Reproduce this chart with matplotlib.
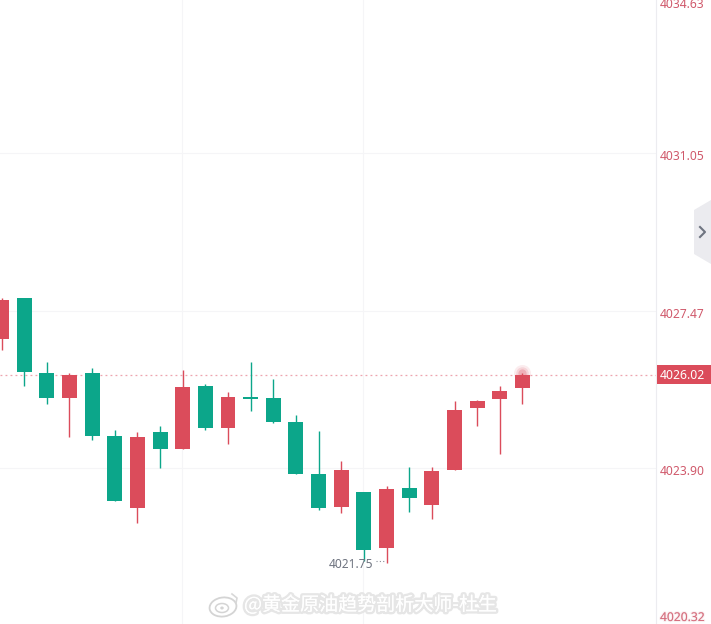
import matplotlib
matplotlib.use("Agg")
import matplotlib.pyplot as plt
import matplotlib.patheffects as pe
from matplotlib.patches import Polygon, Ellipse, Rectangle
from matplotlib.lines import Line2D

RED = "#DB4C5B"
GREEN = "#0CA68A"
GRID = "#F5F5F7"
TICK_RED = "#D0596B"

# Candles, oldest first
opens = [4026.83, 4027.76, 4026.06, 4025.49, 4026.06, 4024.63, 4022.99, 4024.72, 4024.33, 4025.76, 4024.81,
         4025.51, 4025.49, 4024.94, 4023.76, 4023.01, 4023.35, 4022.08, 4023.45, 4023.06, 4023.85, 4025.26,
         4025.47, 4025.72]
closes = [4027.71, 4026.08, 4025.49, 4026.02, 4024.63, 4023.15, 4024.60, 4024.33, 4025.74, 4024.81, 4025.51,
          4025.47, 4024.94, 4023.76, 4022.99, 4023.85, 4022.04, 4023.42, 4023.22, 4023.83, 4025.22, 4025.42,
          4025.65, 4026.02]
highs = [4027.76, 4027.76, 4026.31, 4026.06, 4026.17, 4024.76, 4024.72, 4024.85, 4026.12, 4025.81, 4025.63,
         4026.31, 4025.92, 4025.10, 4024.74, 4024.06, 4023.35, 4023.49, 4023.92, 4023.92, 4025.42, 4025.44,
         4025.76, 4026.06]
lows = [4026.58, 4025.76, 4025.35, 4024.60, 4024.54, 4023.15, 4022.65, 4023.90, 4024.33, 4024.76, 4024.45,
        4025.19, 4024.92, 4023.76, 4022.95, 4022.88, 4021.80, 4021.75, 4022.90, 4022.74, 4023.85, 4024.85,
        4024.22, 4025.35]
up_flags = [True, False, False, True, False, False, True, False, True, False, True,
            False, False, False, False, True, False, True, False, True, True, True, True, True]

axis_ticks = [4034.63, 4031.05, 4027.47, 4023.90, 4020.32]
axis_tick_labels = ["4034.63", "4031.05", "4027.47", "4023.90", "4020.32"]
last_price = 4026.02
low_label = "4021.75"
low_price = 4021.75
low_index = 17
grid_slots = [8, 16]
watermark = "@黄金原油趋势剖析大师-杜生"

W, H = 711, 624
PANE = 656
SLOT = 22.65
PX_PER_UNIT = 44.06

fig = plt.figure(figsize=(W / 100, H / 100), dpi=100, facecolor="white")
plt.rcParams["font.family"] = ["Noto Sans", "Noto Sans CJK SC", "DejaVu Sans"]

ax = fig.add_axes([0, 0, PANE / W, 1])
ax.set_xticks([])
ax.set_yticks(axis_ticks)
ax.set_yticklabels([])
# Limits go after the ticks: set_yticks would otherwise widen the view
ax.set_xlim(-1.5 / SLOT, (PANE - 1.5) / SLOT)
ax.set_ylim(4023.90 - (H - 468) / PX_PER_UNIT, 4023.90 + 468 / PX_PER_UNIT)
ax.tick_params(length=0)
for side in ("top", "left", "bottom"):
    ax.spines[side].set_visible(False)
ax.spines["right"].set_color("#ECECF0")
ax.spines["right"].set_linewidth(0.8)

ax.grid(axis="y", color=GRID, lw=0.8)
for slot in grid_slots:
    ax.axvline(slot - 0.03, color=GRID, lw=0.8, zorder=0)
ax.set_axisbelow(True)

ax.axhline(last_price, color="#EDA3AE", lw=0.9, ls=(0, (1.5, 2.5)), zorder=1)

for i, (o, c, h, l, up) in enumerate(zip(opens, closes, highs, lows, up_flags)):
    col = RED if up else GREEN
    ax.vlines(i, l, h, color=col, lw=1.0, zorder=2)
    top, bottom = max(o, c), min(o, c)
    ax.bar(i, top - bottom, bottom=bottom, width=0.66, color=col, lw=0, zorder=3)

# Pulse on the live candle
for size, alpha in ((150, 0.10), (80, 0.15), (35, 0.25)):
    ax.scatter(len(opens) - 1, last_price + 0.03, s=size, color=RED, alpha=alpha, lw=0, zorder=2)

# Lowest-price marker
ax.text(low_index - 0.6, low_price - 0.05, low_label, ha="right", va="center", fontsize=8.6, color="#6F7480",
        zorder=4)
ax.plot([low_index - 0.45, low_index - 0.05], [low_price + 0.03] * 2, color="#8A8E98", lw=0.8,
        ls=(0, (1, 2)), zorder=4)

# Overlay in pixel coordinates for the price axis labels and widgets
ov = fig.add_axes([0, 0, 1, 1], facecolor="none")
ov.set_xlim(0, W)
ov.set_ylim(H, 0)
ov.axis("off")


def price_to_px(p):
    return 468 - (p - 4023.90) * PX_PER_UNIT


# Labels sit just under their grid line and are kept inside the edges;
# the lowest one is washed out by the credit strip
for value, label in zip(axis_ticks, axis_tick_labels):
    y = min(max(price_to_px(value) + 3.5, 5), 617.5)
    faded = y == 617.5
    ov.text(660, y, label, ha="left", va="center", fontsize=8.7, color=TICK_RED, alpha=0.55 if faded else 1.0,
            path_effects=[pe.withStroke(linewidth=1.6, foreground="#F6E4E7"), pe.Normal()] if faded else None,
            zorder=5)

ly = price_to_px(last_price)
ov.add_patch(Rectangle((657, ly - 9.5), 54, 19, fc=RED, ec="none"))
ov.text(659.5, ly + 0.5, f"{last_price:.2f}", ha="left", va="center", fontsize=8.8, color="white",
        fontweight="bold")

# Collapse tab on the right edge
ov.add_patch(Polygon([(711, 200), (694, 210), (694, 254), (711, 264)], closed=True, fc="#EBEBEF", ec="none"))
ov.add_line(Line2D([700, 705, 700], [227, 232, 237], color="#6F7480", lw=1.5))

# Blurred credit along the bottom edge
halo = [pe.withStroke(linewidth=3.5, foreground="#E6E6E6"), pe.Normal()]
ov.text(244, 605, watermark, ha="left", va="center", fontsize=13.7, color="white",
        family=["Noto Sans CJK SC", "DejaVu Sans"], path_effects=halo, zorder=6)
ov.add_patch(Ellipse((223, 607), 27, 19, angle=-8, fc="white", ec="#D4D4D4", lw=1.3, zorder=6))
ov.add_patch(Ellipse((222, 608), 13, 9, fc="white", ec="#D4D4D4", lw=1.1, zorder=6))
ov.add_patch(Ellipse((222, 608), 3.5, 3, fc="#D4D4D4", ec="none", zorder=6))
ov.add_line(Line2D([232, 237, 236], [594, 598, 603], color="#D8D8D8", lw=1.2, zorder=6))

fig.savefig("out.png", dpi=100, facecolor="white")
